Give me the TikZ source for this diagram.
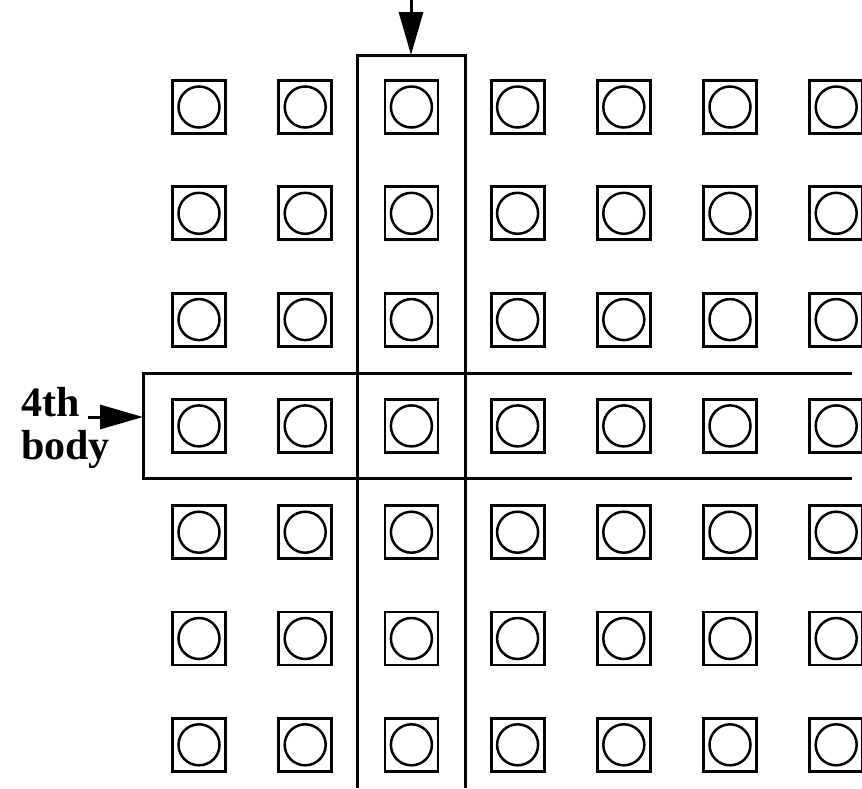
\documentclass[tikz,border=0pt]{standalone}
\usepackage{fontspec}
\setmainfont{Liberation Serif}
\usetikzlibrary{arrows.meta}
\tikzset{
  cell/.style={draw, line width=2.8pt, minimum size=53pt, inner sep=0pt, outer sep=0pt},
  hole/.style={draw, circle, line width=2.5pt, minimum size=41pt, inner sep=0pt},
  frame/.style={draw, line width=3pt},
  bigarrow/.style={line width=3pt, -{Triangle[length=43pt,width=24pt]}},
  lbl/.style={font=\fontsize{42}{44}\selectfont\bfseries, inner sep=0pt, anchor=base west}
}
\begin{document}
\begin{tikzpicture}[x=1pt,y=-1pt]
\useasboundingbox (0,0) rectangle (862,788);
\foreach \i in {1,...,7}{
  \foreach \j in {1,...,7}{
    \pgfmathsetmacro{\cx}{199+106.2*(\j-1)}
    \pgfmathsetmacro{\cy}{107+106.3*(\i-1)}
    \node[cell] (s-\i-\j) at (\cx,\cy) {};
    \node[hole] (h-\i-\j) at (s-\i-\j) {};
  }
}
% vertical column frame
\coordinate (vl) at (357,788);
\coordinate (vtl) at (357,55);
\coordinate (vtr) at (465,55);
\coordinate (vr) at (465,788);
\coordinate (vtop) at (411,55);
\draw[frame] (vl) -- (vtl) -- (vtr) -- (vr);
% horizontal row frame
\coordinate (ht) at (852,373);
\coordinate (htl) at (143,373);
\coordinate (hbl) at (143,478);
\coordinate (hb) at (852,478);
\coordinate (hleft) at (143,417);
\draw[frame] (ht) -- (htl) -- (hbl) -- (hb);
% arrows
\coordinate (astart) at (411,0);
\draw[bigarrow] (astart) -- (vtop);
\coordinate (bstart) at (88,417);
\draw[bigarrow] (bstart) -- (hleft);
% label
\node[lbl] (l1) at (21,416) {4th};
\node[lbl] (l2) at (21,459) {body};
\end{tikzpicture}
\end{document}
